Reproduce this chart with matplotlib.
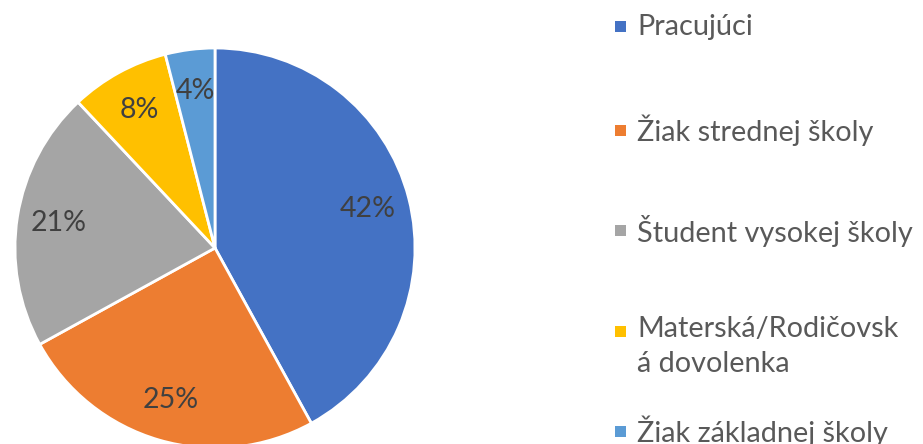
import matplotlib
matplotlib.use("Agg")
import matplotlib.pyplot as plt
from matplotlib.patches import Rectangle

categories = ["Pracujúci", "Žiak strednej školy", "Študent vysokej školy",
              "Materská/Rodičovská dovolenka", "Žiak základnej školy"]
legend_labels = ["Pracujúci", "Žiak strednej školy", "Študent vysokej školy",
                 "Materská/Rodičovsk\ná dovolenka", "Žiak základnej školy"]
values = [42, 25, 21, 8, 4]
colors = ["#4472C4", "#ED7D31", "#A5A5A5", "#FFC000", "#5B9BD5"]

plt.rcParams['font.family'] = ['Lato', 'DejaVu Sans']

W, H = 923, 444
fig = plt.figure(figsize=(W / 100, H / 100), dpi=100)
fig.patch.set_facecolor("white")

cx, cy, r = 215, 248, 200
ax = fig.add_axes([(cx - r) / W, (H - cy - r) / H, 2 * r / W, 2 * r / H])
wedges, texts, autotexts = ax.pie(
    values, colors=colors, startangle=90, counterclock=False,
    autopct=lambda p: f"{p:.0f}%", pctdistance=0.79,
    wedgeprops=dict(edgecolor="white", linewidth=2.0),
    textprops=dict(color="#404040", fontsize=20.5))
ax.set_xlim(-1, 1)
ax.set_ylim(-1, 1)
ax.set_aspect("equal")
ax.axis("off")

legend_y = [27, 130, 231, 331, 431]
sq = 11
fs = 20.8
for lab, col, y in zip(legend_labels, colors, legend_y):
    fig.patches.append(Rectangle((615 / W, (H - y - sq / 2) / H), sq / W, sq / H,
                                 transform=fig.transFigure, facecolor=col,
                                 edgecolor="none"))
    if "\n" in lab:
        fig.text(637 / W, (H - y + 15) / H, lab, fontsize=fs, color="#595959",
                 va="top", ha="left", linespacing=1.42)
    else:
        fig.text(637 / W, (H - y) / H, lab, fontsize=fs, color="#595959",
                 va="center", ha="left")

fig.savefig("out.png", dpi=100, facecolor="white")
